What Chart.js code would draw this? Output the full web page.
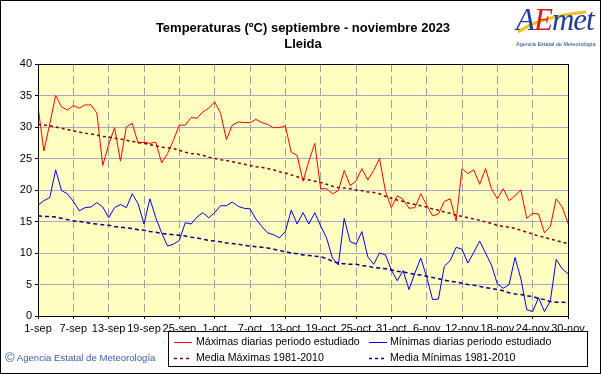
<!DOCTYPE html>
<html>
<head>
<meta charset="utf-8">
<script src="https://cdn.jsdelivr.net/npm/chart.js@4.4.1/dist/chart.umd.min.js"></script>
<style>
  body { margin: 0; background: #fff; }
  #wrap { position: relative; width: 601px; height: 374px; font-family: 'Liberation Sans', Arial, sans-serif; overflow: hidden; }
  #chart { position: absolute; left: 0; top: 0; }
  #frame { position: absolute; left: 0; top: 0; width: 599px; height: 372px; border: 1px solid #000; pointer-events: none; }
  #title { position: absolute; left: 38px; width: 530px; top: 20px; text-align: center; font-weight: bold; font-size: 13px; line-height: 16px; color: #000; }
  #logo { position: absolute; left: 512px; top: 2px; width: 80px; height: 48px; }
  #logo .word { position: absolute; left: 4px; top: 0; font-family: 'Liberation Serif', serif; font-style: italic; font-size: 31px; letter-spacing: -1px; color: #1f3c9c; }
  #logo .word .e { color: #d42020; }
  #logo .sub { position: absolute; left: 4px; top: 39px; font-size: 5.5px; color: #1f3c9c; white-space: nowrap; }
  #logo svg { position: absolute; left: 0; top: 0; }
  #copy { position: absolute; left: 5px; top: 350px; font-size: 9.6px; color: #3a5dae; white-space: nowrap; }
  #copy .c { font-size: 13px; vertical-align: -1px; }
  #legend { position: absolute; left: 168px; top: 331px; width: 420px; height: 36px; box-sizing: border-box; border: 1px solid #000; background: #fff; font-size: 10.6px; color: #000; }
  #legend .item { position: absolute; white-space: nowrap; }
  #legend svg { position: absolute; left: 0; top: 0; }
</style>
</head>
<body>
<div id="wrap">
  <canvas id="chart" width="601" height="374"></canvas>
  <div id="title">Temperaturas (ºC) septiembre - noviembre 2023<br>Lleida</div>
  <div id="logo">
    <svg width="80" height="40"><path d="M6 30 Q30 14 74 10" stroke="#f2c21b" stroke-width="3" fill="none"/></svg>
    <div class="word">A<span class="e">E</span>met</div>
    <div class="sub">Agencia Estatal de Meteorología</div>
  </div>
  <div id="copy"><span class="c">©</span> Agencia Estatal de Meteorología</div>
  <div id="legend">
    <svg width="420" height="36">
      <line x1="5" y1="10.5" x2="23" y2="10.5" stroke="#ff0000" stroke-width="1"/>
      <line x1="200" y1="10.5" x2="218" y2="10.5" stroke="#0000ff" stroke-width="1"/>
      <line x1="5" y1="26.5" x2="23" y2="26.5" stroke="#800000" stroke-width="1.5" stroke-dasharray="3,3"/>
      <line x1="200" y1="26.5" x2="218" y2="26.5" stroke="#000080" stroke-width="1.5" stroke-dasharray="3,3"/>
    </svg>
    <div class="item" style="left:27px;top:3px">Máximas diarias periodo estudiado</div>
    <div class="item" style="left:221px;top:3px">Mínimas diarias periodo estudiado</div>
    <div class="item" style="left:27px;top:19px">Media Máximas 1981-2010</div>
    <div class="item" style="left:221px;top:19px">Media Mínimas 1981-2010</div>
  </div>
  <div id="frame"></div>
</div>
<script>
// x tick labels, one every 6 days (1-sep .. 30-nov)
const tickLabels = ['1-sep', '7-sep', '13-sep', '19-sep', '25-sep', '1-oct', '7-oct', '13-oct',
  '19-oct', '25-oct', '31-oct', '6-nov', '12-nov', '18-nov', '24-nov', '30-nov'];

// daily maxima, 1-sep .. 30-nov 2023
const tmax = [
  33.3, 26.2, 30.5, 35.0, 33.2, 32.7, 33.4, 33.0, 33.5, 33.5,
  32.2, 23.9, 27.2, 29.9, 24.6, 30.0, 30.6, 27.4, 27.6, 27.4,
  27.6, 24.3, 25.8, 27.9, 30.3, 30.3, 31.5, 31.4, 32.4, 33.0,
  34.0, 32.2, 28.0, 30.3, 30.8, 30.7, 30.7, 31.2, 30.7, 30.4,
  29.9, 29.9, 30.2, 26.0, 25.5, 21.4, 24.6, 27.4, 20.2, 20.2,
  19.4, 19.9, 23.1, 20.7, 21.4, 23.4, 21.6, 23.1, 25.0, 19.8,
  17.2, 19.1, 18.5, 17.1, 17.2, 19.4, 17.6, 15.9, 16.2, 18.2,
  18.6, 15.1, 23.4, 22.6, 23.2, 20.9, 23.4, 20.2, 18.6, 20.2,
  18.3, 19.1, 20.0, 15.5, 16.3, 16.2, 13.2, 14.2, 18.6, 17.3,
  14.7
];

// daily minima
const tmin = [
  17.6, 18.3, 18.8, 23.2, 19.9, 19.4, 18.2, 16.7, 17.2, 17.3,
  18.0, 17.3, 15.6, 17.2, 17.7, 17.2, 19.4, 17.8, 14.6, 18.6,
  15.6, 13.2, 11.1, 11.4, 12.0, 14.8, 14.6, 15.7, 16.4, 15.6,
  16.4, 17.5, 17.5, 18.1, 17.4, 17.1, 17.0, 15.4, 14.2, 13.2,
  12.9, 12.4, 13.4, 16.8, 14.6, 16.4, 14.6, 16.4, 14.3, 12.4,
  9.2, 8.1, 15.5, 11.8, 11.4, 13.4, 9.4, 8.2, 10.0, 9.7,
  7.3, 5.6, 7.2, 4.2, 6.8, 9.2, 6.2, 2.6, 2.7, 7.9,
  8.8, 10.9, 10.6, 8.4, 10.1, 11.9, 10.0, 8.1, 5.1, 4.4,
  5.0, 9.3, 5.9, 1.0, 0.7, 2.9, 0.7, 2.4, 9.0, 7.5,
  6.7
];

// 1981-2010 mean of maxima
const meanMax = [
  30.4, 30.3, 30.2, 30.0, 29.8, 29.6, 29.4, 29.2, 29.0, 28.9,
  28.7, 28.5, 28.4, 28.2, 28.1, 27.9, 27.7, 27.6, 27.4, 27.2,
  27.0, 26.8, 26.7, 26.6, 26.3, 26.0, 25.8, 25.7, 25.5, 25.2,
  25.0, 24.8, 24.7, 24.5, 24.3, 24.1, 23.9, 23.7, 23.6, 23.4,
  23.2, 22.9, 22.7, 22.4, 22.1, 21.8, 21.6, 21.4, 21.2, 20.9,
  20.6, 20.4, 20.3, 20.2, 20.0, 19.9, 19.7, 19.6, 19.4, 19.0,
  18.7, 18.4, 18.2, 17.9, 17.7, 17.5, 17.3, 17.0, 16.8, 16.5,
  16.3, 16.0, 15.8, 15.6, 15.4, 15.2, 14.9, 14.7, 14.4, 14.2,
  14.1, 13.9, 13.6, 13.3, 13.0, 12.7, 12.5, 12.2, 12.0, 11.7,
  11.5
];

// 1981-2010 mean of minima
const meanMin = [
  15.9, 15.8, 15.8, 15.7, 15.5, 15.3, 15.1, 15.0, 14.9, 14.7,
  14.6, 14.5, 14.4, 14.2, 14.1, 14.0, 13.9, 13.7, 13.6, 13.4,
  13.3, 13.1, 13.0, 12.9, 12.8, 12.7, 12.5, 12.4, 12.2, 12.0,
  11.9, 11.8, 11.6, 11.5, 11.4, 11.2, 11.1, 11.0, 10.9, 10.8,
  10.6, 10.4, 10.2, 10.0, 9.9, 9.7, 9.6, 9.5, 9.4, 9.1,
  8.7, 8.4, 8.3, 8.2, 8.2, 8.0, 7.9, 7.7, 7.6, 7.5,
  7.3, 7.1, 7.0, 6.8, 6.6, 6.5, 6.3, 6.1, 5.9, 5.7,
  5.5, 5.4, 5.2, 5.0, 4.9, 4.7, 4.5, 4.4, 4.2, 4.0,
  3.7, 3.5, 3.4, 3.2, 3.1, 2.8, 2.6, 2.3, 2.2, 2.2,
  2.1
];

const dayIndex = tmax.map((_, i) => i);

const plotFrame = {
  id: 'plotFrame',
  beforeDraw(chart) {
    const { ctx, chartArea: a } = chart;
    ctx.save();
    ctx.fillStyle = '#ffffc0';
    ctx.fillRect(a.left, a.top, a.right - a.left, a.bottom - a.top);
    ctx.restore();
  },
  afterDraw(chart) {
    const { ctx, chartArea: a } = chart;
    ctx.save();
    ctx.strokeStyle = '#000';
    ctx.lineWidth = 1;
    ctx.strokeRect(Math.round(a.left) + 0.5, Math.round(a.top) + 0.5,
      Math.round(a.right - a.left), Math.round(a.bottom - a.top));
    ctx.restore();
  },
};

function line(data, color, width, dash) {
  return {
    data,
    borderColor: color,
    borderWidth: width,
    borderDash: dash,
    pointRadius: 0,
    tension: 0,
    fill: false,
  };
}

new Chart(document.getElementById('chart'), {
  type: 'line',
  data: {
    labels: dayIndex,
    datasets: [
      line(meanMax, '#800000', 1.5, [3, 3]),
      line(meanMin, '#000080', 1.5, [4, 3]),
      line(tmax, '#ff0000', 1, []),
      line(tmin, '#0000ff', 1, []),
    ],
  },
  options: {
    responsive: false,
    animation: false,
    devicePixelRatio: 1,
    layout: { padding: { top: 64, right: 33, left: 0, bottom: 0 } },
    plugins: { legend: { display: false }, title: { display: false }, tooltip: { enabled: false } },
    scales: {
      x: {
        type: 'linear',
        min: 0,
        max: 90,
        afterFit: (s) => { s.height = 58; },
        ticks: {
          stepSize: 6,
          autoSkip: false,
          maxRotation: 0,
          padding: 3,
          color: '#000',
          font: { family: 'Liberation Sans', size: 11 },
          callback: (v) => tickLabels[v / 6],
        },
        grid: { color: '#a0a0a0', tickLength: 3, tickColor: '#000' },
        border: { display: false, dash: [8, 4] },
      },
      y: {
        min: 0,
        max: 40,
        afterFit: (s) => { s.width = 38; },
        ticks: {
          stepSize: 5,
          padding: 3,
          color: '#000',
          font: { family: 'Liberation Sans', size: 11 },
        },
        grid: { color: '#a8a8c8', tickLength: 3, tickColor: '#000' },
        border: { display: false },
      },
    },
  },
  plugins: [plotFrame],
});
</script>
</body>
</html>
